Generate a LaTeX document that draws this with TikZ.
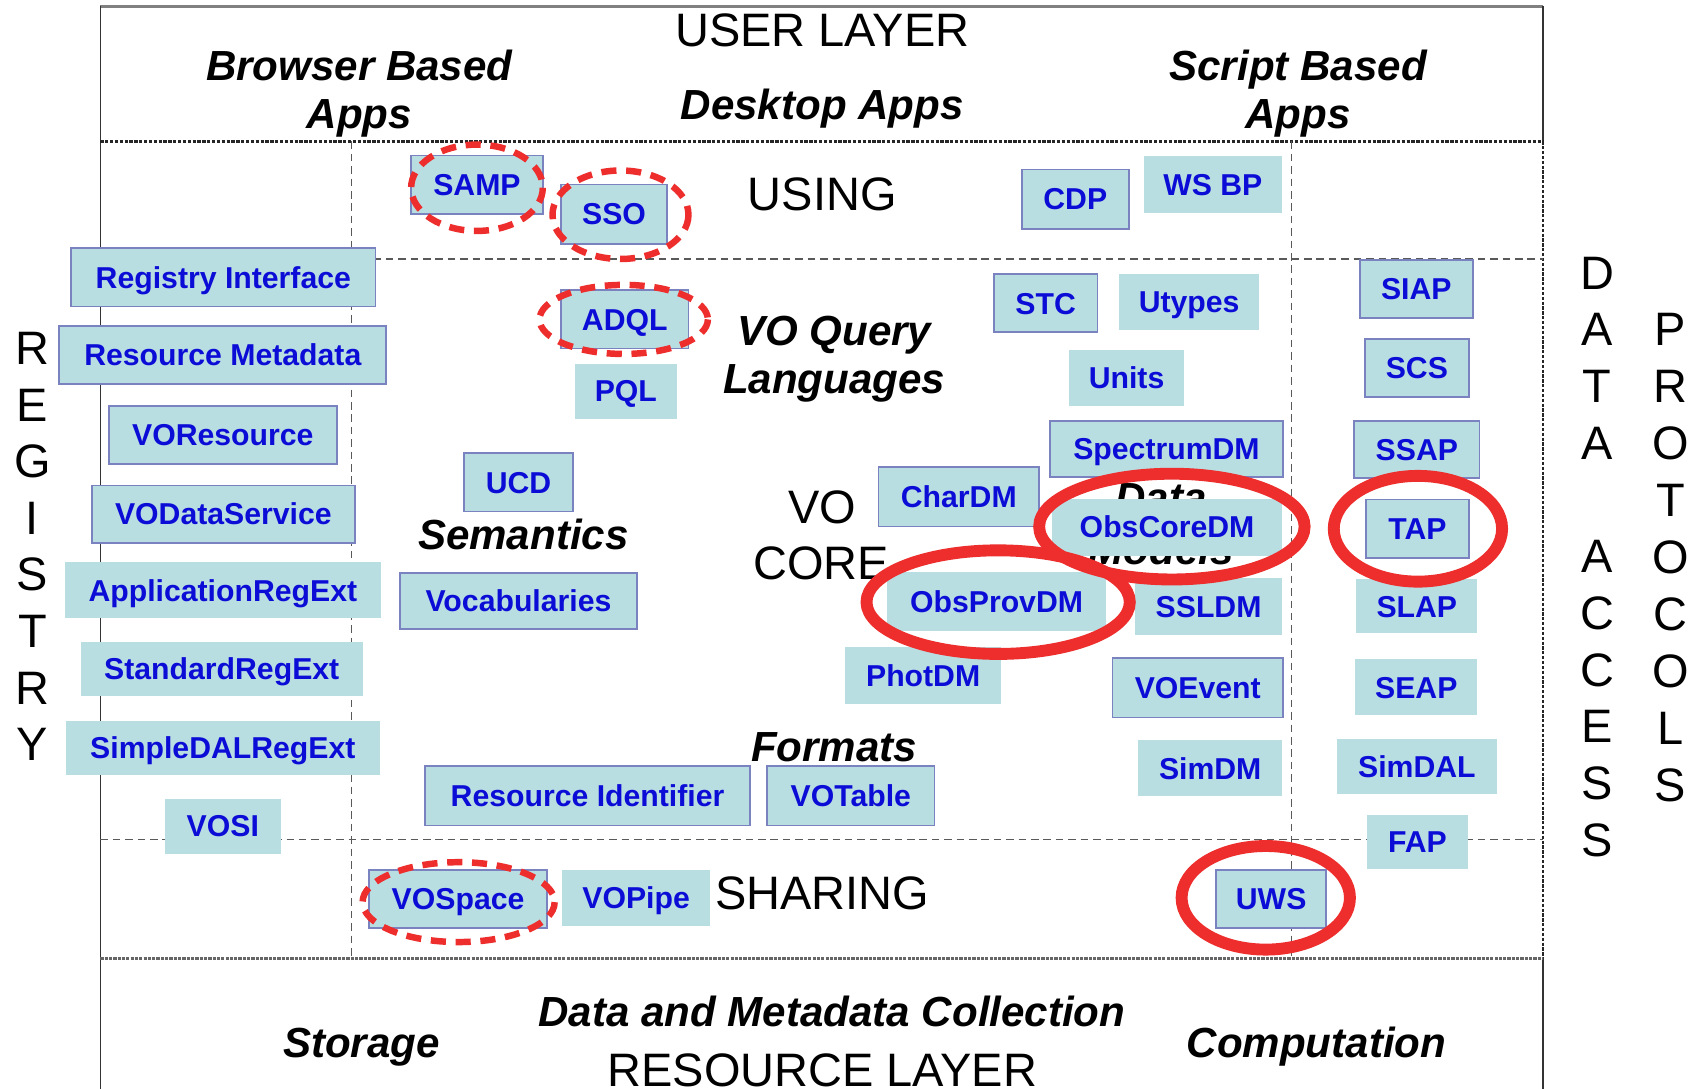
\documentclass[tikz,border=0pt]{standalone}
\usepackage{fontspec}
\setmainfont{Liberation Sans}
\definecolor{boxfill}{RGB}{185,222,226}
\definecolor{boxline}{RGB}{122,130,192}
\definecolor{boxtext}{RGB}{12,12,215}
\definecolor{vored}{RGB}{238,45,45}
\newcommand\mkbox[7]{\node[#1, minimum width={(#5-#3)*1pt}, minimum height={(#6-#4)*1pt}] (#2) at (#3,#4) {#7};}
\begin{document}
\begin{tikzpicture}[x=1pt,y=-1pt,
  box/.style={fill=boxfill, inner sep=0pt, outer sep=0pt, text=boxtext, font=\fontsize{28}{30}\selectfont\bfseries, anchor=north west, text height=20pt, text depth=0pt},
  bxb/.style={box, draw=boxline, line width=1.6pt},
  lay/.style={font=\fontsize{43.5}{48}\selectfont, text=black, inner sep=0pt, anchor=base},
  cat/.style={font=\fontsize{39}{46}\selectfont\bfseries\itshape, text=black, inner sep=0pt, anchor=base},
  vlet/.style={font=\fontsize{43.5}{48}\selectfont, inner sep=0pt, anchor=base},
  dring/.style={draw=vored, line width=6pt, dash pattern=on 14pt off 9pt},
  sring/.style={draw=vored, line width=11pt},
  fine/.style={draw=black!65, line width=1.3pt, dash pattern=on 7pt off 4.5pt},
  heavy/.style={draw=black!85, line width=2.2pt, dash pattern=on 3pt off 1.5pt},
]
\useasboundingbox (0,0) rectangle (1568,1009);
\fill[white] (0,0) rectangle (1568,1009);
% frame
\coordinate (tl) at (93,6); \coordinate (tr) at (1430,6);
\coordinate (bl) at (93,1009); \coordinate (br) at (1430,1009);
\coordinate (ul) at (93,131); \coordinate (ur) at (1430,131);
\coordinate (sl) at (93,888); \coordinate (sr) at (1430,888);
\draw[black!50, line width=2pt] (tl) -- (tr);
\draw[black!80, line width=1.3pt] (tl) -- (bl);
\draw[black!80, line width=1.5pt] (tr) -- (ur);
\draw[heavy, line width=1.6pt] (ur) -- (sr);
\draw[black!80, line width=1.5pt] (sr) -- (br);
\draw[heavy] (ul) -- (ur);
\draw[black!60, line width=3pt, dash pattern=on 3pt off 1pt] (sl) -- (sr);
% inner dashed
\coordinate (a1) at (93,240); \coordinate (a2) at (1430,240);
\coordinate (b1) at (93,778); \coordinate (b2) at (1430,778);
\coordinate (c1) at (326,131); \coordinate (c2) at (326,888);
\coordinate (d1) at (1197,131); \coordinate (d2) at (1197,888);
\draw[fine] (a1) -- (a2);
\draw[fine] (b1) -- (b2);
\draw[fine] (c1) -- (c2);
\draw[fine] (d1) -- (d2);
% layer texts
\node[lay] (userlayer) at (762,43) {USER LAYER};
\node[cat] (bb1) at (333,75) {Browser Based};
\node[cat] (bb2) at (333,119) {Apps};
\node[cat] (desk) at (762,111) {Desktop Apps};
\node[cat] (sb1) at (1203,75) {Script Based};
\node[cat] (sb2) at (1203,119) {Apps};
\node[lay] (using) at (762,195) {USING};
\node[cat] (vq1) at (773,320) {VO Query};
\node[cat] (vq2) at (773,365) {Languages};
\node[lay] (vo) at (762,485) {VO};
\node[lay] (core) at (761,537) {CORE};
\node[cat] (sem) at (485,509) {Semantics};
\node[cat] (dm1) at (1076,475) {Data};
\node[cat] (dm2) at (1076,523) {Models};
\node[cat] (fmt) at (773,706) {Formats};
\node[lay] (sharing) at (762,843) {SHARING};
\node[cat] (dmc) at (771,951) {Data and Metadata Collection};
\node[cat] (stor) at (335,980) {Storage};
\node[cat] (comp) at (1220,980) {Computation};
\node[lay] (reslayer) at (762,1007) {RESOURCE LAYER};
% vertical words
\foreach \l [count=\i from 0] in {R,E,G,I,S,T,R,Y}
  \node[vlet] (reg\i) at (30,338+52.4*\i) {\l};
\foreach \l/\i in {D/0,A/1,T/2,A/3,A/5,C/6,C/7,E/8,S/9,S/10}
  \node[vlet] (da\i) at (1480,268+52.55*\i) {\l};
\foreach \l [count=\i from 0] in {P,R,O,T,O,C,O,L,S}
  \node[vlet] (pr\i) at (1548,320+52.8*\i) {\l};
% boxes
\mkbox{bxb}{samp}{381}{144}{503}{198}{SAMP}
\mkbox{bxb}{sso}{520}{171}{618}{226}{SSO}
\mkbox{bxb}{cdp}{947}{157}{1046}{212}{CDP}
\mkbox{box}{wsbp}{1060}{145}{1188}{197}{WS BP}
\mkbox{bxb}{regint}{66}{230}{348}{284}{Registry Interface}
\mkbox{bxb}{resmeta}{55}{302}{358}{356}{Resource Metadata}
\mkbox{bxb}{vores}{101}{376}{312}{430}{VOResource}
\mkbox{bxb}{vods}{85}{450}{329}{503}{VODataService}
\mkbox{box}{appreg}{60}{521}{353}{573}{ApplicationRegExt}
\mkbox{box}{stdreg}{75}{595}{336}{645}{StandardRegExt}
\mkbox{box}{sdalreg}{61}{668}{352}{718}{SimpleDALRegExt}
\mkbox{box}{vosi}{153}{740}{260}{791}{VOSI}
\mkbox{bxb}{adql}{520}{269}{638}{323}{ADQL}
\mkbox{box}{pql}{533}{337}{627}{388}{PQL}
\mkbox{bxb}{ucd}{430}{420}{531}{474}{UCD}
\mkbox{bxb}{vocab}{371}{531}{590}{583}{Vocabularies}
\mkbox{bxb}{stc}{921}{254}{1017}{308}{STC}
\mkbox{box}{utypes}{1037}{254}{1167}{306}{Utypes}
\mkbox{box}{units}{991}{324}{1097}{376}{Units}
\mkbox{bxb}{spec}{973}{390}{1189}{442}{SpectrumDM}
\mkbox{bxb}{chardm}{814}{433}{963}{488}{CharDM}
\mkbox{box}{obscore}{975}{462}{1188}{515}{ObsCoreDM}
\mkbox{box}{obsprov}{822}{530}{1025}{585}{ObsProvDM}
\mkbox{box}{ssldm}{1052}{536}{1188}{588}{SSLDM}
\mkbox{box}{photdm}{783}{600}{928}{652}{PhotDM}
\mkbox{bxb}{voevent}{1031}{610}{1189}{665}{VOEvent}
\mkbox{box}{simdm}{1055}{686}{1188}{738}{SimDM}
\mkbox{bxb}{resid}{394}{710}{695}{765}{Resource Identifier}
\mkbox{bxb}{votable}{711}{710}{866}{765}{VOTable}
\mkbox{bxb}{siap}{1260}{241}{1365}{295}{SIAP}
\mkbox{bxb}{scs}{1265}{314}{1361}{368}{SCS}
\mkbox{bxb}{ssap}{1255}{390}{1371}{443}{SSAP}
\mkbox{bxb}{tap}{1266}{463}{1361}{517}{TAP}
\mkbox{box}{slap}{1257}{537}{1369}{587}{SLAP}
\mkbox{box}{seap}{1256}{611}{1369}{663}{SEAP}
\mkbox{box}{simdal}{1239}{685}{1387}{736}{SimDAL}
\mkbox{box}{fap}{1267}{755}{1360}{805}{FAP}
\mkbox{bxb}{vospace}{342}{806}{507}{860}{VOSpace}
\mkbox{box}{vopipe}{521}{806}{658}{858}{VOPipe}
\mkbox{bxb}{uws}{1127}{806}{1229}{860}{UWS}
% red rings
\draw[dring] (442,174) ellipse [x radius=61, y radius=40];
\draw[dring] (575,199) ellipse [x radius=63, y radius=41];
\draw[dring] (578,296) ellipse [x radius=78, y radius=32];
\draw[dring] (425,836) ellipse [x radius=89, y radius=37];
\draw[sring] (1086,488) ellipse [x radius=123, y radius=49];
\draw[sring] (925,558) ellipse [x radius=122, y radius=48];
\draw[sring] (1314,490) ellipse [x radius=78, y radius=49];
\draw[sring] (1173,832) ellipse [x radius=78, y radius=48];
\end{tikzpicture}
\end{document}
